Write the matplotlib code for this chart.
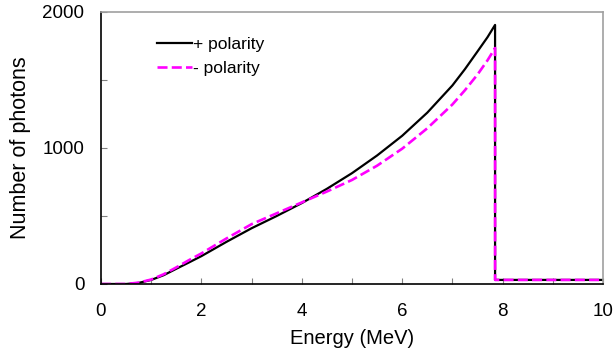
import matplotlib
matplotlib.use('agg')
import matplotlib.pyplot as plt
from matplotlib.ticker import MultipleLocator

plt.rcParams['font.family'] = ['Liberation Sans', 'DejaVu Sans']

# values
energy = [0, 0.5, 0.75, 1.0, 1.25, 1.5, 1.75, 2.0, 2.5, 3.0, 3.5, 4.0, 4.5,
          5.0, 5.5, 6.0, 6.5, 7.0, 7.25, 7.5, 7.7, 7.85, 7.85, 10]
plus_pol = [0, 0, 8, 30, 65, 112, 158, 205, 310, 410, 500, 595, 700,
            815, 945, 1090, 1260, 1460, 1580, 1710, 1815, 1905, 30, 30]
minus_pol = [0, 0, 10, 33, 72, 122, 175, 225, 335, 440, 520, 600, 680,
             765, 870, 995, 1145, 1320, 1425, 1540, 1645, 1735, 30, 30]

fig = plt.figure(figsize=(6.14, 3.54), dpi=100)
ax = fig.add_axes([101 / 614, 1 - 284 / 354, 502 / 614, 272 / 354])

ax.plot(energy, plus_pol, color='black', lw=1.6, label='+ polarity')
ax.plot(energy, minus_pol, color='#ff00ff', lw=1.9, dashes=(3.8, 1.6), label='- polarity')

ax.set_xlim(0, 10)
ax.set_ylim(0, 2000)
ax.xaxis.set_major_locator(MultipleLocator(2))
ax.xaxis.set_minor_locator(MultipleLocator(1))
ax.yaxis.set_major_locator(MultipleLocator(1000))
ax.yaxis.set_minor_locator(MultipleLocator(500))
ax.tick_params(which='both', direction='in', length=4, width=0.8, color='#808080',
               labelsize=13.5, top=False, right=False)
ax.tick_params(axis='x', pad=14)
ax.tick_params(axis='y', pad=12)

for s in ['left', 'bottom']:
    ax.spines[s].set_color('black')
    ax.spines[s].set_linewidth(1.2)
for s in ['top', 'right']:
    ax.spines[s].set_color('#a0a0a0')
    ax.spines[s].set_linewidth(1.2)

ax.set_xlabel('Energy (MeV)', fontsize=14.5, labelpad=6)
ax.set_ylabel('Number of photons', fontsize=15.5, labelpad=8)

ax.legend(loc='upper left', bbox_to_anchor=(0.08, 0.965), frameon=False, fontsize=12.5,
          handlelength=2.0, handletextpad=0.1, labelspacing=0.48)

fig.savefig('out.png', dpi=100)
